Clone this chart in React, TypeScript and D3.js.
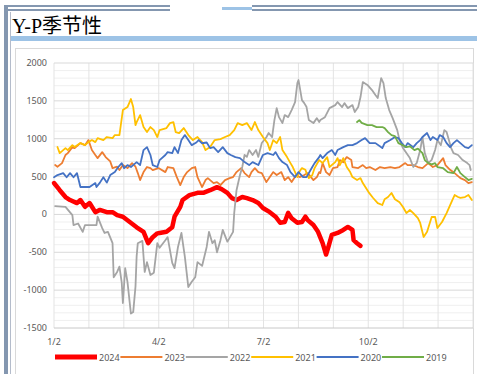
import React from "react";
import * as d3 from "d3";

// Y-P spread seasonality: [day offset from 1/2, spread value]
const s2024: [number, number][] = [
  [0, 415], [5, 320], [10, 230], [14, 190], [20, 150], [23, 190], [27, 100], [31, 150], [36, 30], [40, 60],
  [46, 30], [51, 30], [55, -10], [60, -30], [66, -100], [72, -170], [78, -230], [82, -380], [86, -300], [90, -250],
  [92, -245], [98, -230], [103, -170], [105, -30], [110, 100], [112, 190], [118, 255], [125, 285], [130, 285], [136, 320],
  [142, 360], [146, 335], [151, 285], [155, 215], [159, 190], [164, 230], [168, 215], [173, 190], [178, 150], [182, 85],
  [188, 30], [193, -30], [197, -110], [201, -100], [204, 20], [207, -50], [212, -110], [216, -100], [219, -30], [221, -75],
  [226, -140], [230, -230], [234, -380], [237, -530], [239, -430], [242, -270], [247, -245], [252, -205], [256, -165], [260, -205],
  [261, -340], [264, -380], [267, -415],
];

const s2023: [number, number][] = [
  [1, 652], [3, 630], [7, 678], [10, 785], [12, 810], [16, 889], [18, 876], [23, 942], [27, 915], [30, 982],
  [33, 850], [36, 785], [38, 744], [42, 823], [45, 757], [49, 700], [51, 612], [55, 630], [57, 586], [60, 652],
  [64, 612], [68, 678], [71, 630], [73, 546], [75, 454], [78, 560], [81, 626], [84, 612], [86, 586], [91, 612],
  [97, 559], [99, 626], [104, 612], [107, 493], [110, 388], [113, 493], [116, 559], [120, 612], [123, 626], [125, 493],
  [129, 362], [132, 454], [134, 480], [139, 414], [142, 427], [145, 388], [149, 454], [153, 480], [156, 493], [159, 559],
  [163, 612], [166, 546], [170, 493], [172, 559], [175, 612], [178, 559], [181, 546], [185, 427], [188, 493], [191, 559],
  [194, 520], [198, 559], [201, 454], [204, 493], [207, 427], [211, 520], [214, 493], [218, 520], [221, 546], [226, 454],
  [229, 493], [231, 559], [232, 546], [234, 678], [237, 559], [240, 520], [243, 612], [247, 626], [249, 718], [252, 690],
  [255, 757], [259, 718], [260, 626], [265, 612], [269, 652], [272, 612], [275, 626], [280, 586], [284, 626], [288, 612],
  [293, 626], [297, 612], [301, 626], [306, 678], [308, 652], [313, 652], [317, 626], [321, 612], [326, 678], [330, 626],
  [334, 652], [339, 744], [341, 652], [345, 590], [349, 546], [354, 480], [358, 454], [361, 414], [364, 427],
];

const s2022: [number, number][] = [
  [1, 110], [10, 100], [16, -10], [17, -140], [21, -120], [25, -230], [27, -140], [37, -140], [38, -30], [42, -180],
  [44, -245], [47, -230], [51, -380], [52, -830], [55, -760], [57, -690], [59, -900], [60, -1170], [62, -710], [64, -890],
  [67, -1310], [69, -1290], [71, -950], [72, -550], [73, -380], [77, -350], [79, -760], [81, -630], [84, -800], [87, -770],
  [90, -380], [92, -440], [97, -340], [99, -300], [103, -640], [105, -710], [108, -430], [111, -245], [114, -560], [117, -960],
  [120, -890], [123, -830], [125, -630], [129, -680], [133, -430], [135, -230], [138, -380], [140, -340], [142, -500], [145, -340],
  [147, -205], [151, -360], [153, -310], [156, -230], [157, 20], [159, 320], [162, 520], [164, 626], [166, 785], [168, 760],
  [170, 850], [173, 785], [176, 850], [178, 760], [181, 944], [185, 1020], [187, 1075], [190, 1022], [192, 1246], [194, 1404],
  [196, 1285], [199, 1206], [201, 1312], [204, 1285], [207, 1378], [210, 1484], [212, 1735], [213, 1775], [216, 1510], [218, 1470],
  [220, 1418], [222, 1246], [226, 1206], [229, 1272], [231, 1220], [232, 1246], [236, 1285], [240, 1404], [245, 1444], [247, 1484],
  [251, 1418], [253, 1470], [256, 1404], [260, 1444], [262, 1352], [265, 1418], [267, 1550], [269, 1748], [273, 1710], [277, 1643],
  [280, 1577], [282, 1537], [285, 1801], [287, 1735], [289, 1537], [292, 1378], [295, 1272], [299, 1114], [301, 982], [304, 876],
  [307, 810], [310, 744], [313, 626], [316, 680], [319, 850], [321, 1022], [323, 810], [326, 678], [329, 720], [332, 850],
  [334, 982], [337, 915], [340, 1114], [342, 1088], [346, 876], [348, 810], [352, 785], [356, 718], [360, 678], [362, 652],
  [363, 586],
];

const s2021: [number, number][] = [
  [3, 890], [5, 810], [10, 876], [12, 850], [16, 915], [18, 890], [23, 942], [27, 915], [30, 955], [33, 982],
  [36, 955], [38, 1008], [43, 982], [46, 1022], [51, 1008], [53, 1048], [57, 1048], [60, 1378], [64, 1418], [67, 1524],
  [69, 1418], [71, 1180], [72, 1220], [75, 1312], [78, 1154], [81, 1088], [84, 1154], [87, 1114], [90, 1022], [92, 1114],
  [98, 1140], [101, 1206], [104, 1220], [106, 1088], [109, 1075], [113, 1141], [117, 1048], [121, 982], [125, 1022], [129, 955],
  [132, 850], [136, 890], [140, 982], [145, 995], [149, 1022], [153, 1048], [157, 1114], [160, 1206], [164, 1180], [168, 1206],
  [172, 1114], [175, 1220], [178, 1114], [182, 1022], [186, 942], [188, 850], [191, 982], [194, 942], [197, 1022], [199, 850],
  [203, 757], [206, 678], [208, 626], [212, 493], [213, 546], [216, 612], [219, 590], [220, 546], [222, 480], [225, 520],
  [227, 612], [231, 718], [234, 680], [238, 757], [240, 626], [245, 691], [247, 744], [249, 650], [252, 744], [255, 626],
  [258, 559], [260, 493], [264, 454], [267, 480], [269, 414], [274, 295], [278, 217], [282, 150], [286, 124], [288, 200],
  [291, 230], [294, 283], [297, 200], [301, 160], [304, 98], [307, 18], [310, 58], [313, 18], [317, -48], [319, -113],
  [322, -298], [325, -230], [329, -34], [332, -34], [334, -179], [338, -100], [342, 18], [347, 190], [349, 256], [352, 230],
  [354, 220], [358, 230], [361, 256], [364, 190],
];

const s2020: [number, number][] = [
  [0, 491], [3, 520], [8, 546], [11, 491], [14, 546], [17, 491], [20, 546], [23, 362], [27, 362], [31, 362],
  [36, 414], [37, 362], [40, 420], [43, 491], [46, 420], [49, 520], [53, 559], [56, 626], [59, 678], [61, 610],
  [64, 652], [67, 626], [69, 652], [72, 691], [75, 652], [78, 850], [81, 889], [84, 785], [86, 652], [90, 626],
  [92, 718], [97, 785], [99, 823], [103, 810], [105, 889], [108, 810], [111, 982], [114, 1048], [117, 982], [120, 915],
  [124, 950], [126, 982], [129, 940], [133, 950], [136, 876], [139, 889], [143, 823], [147, 889], [151, 810], [154, 785],
  [158, 757], [162, 744], [166, 691], [170, 652], [173, 691], [178, 652], [182, 785], [186, 810], [191, 785], [193, 823],
  [196, 744], [199, 691], [203, 652], [206, 559], [210, 493], [213, 559], [217, 493], [220, 493], [225, 626], [227, 678],
  [231, 757], [232, 785], [234, 744], [238, 810], [242, 850], [245, 785], [247, 850], [252, 889], [256, 915], [260, 915],
  [264, 942], [268, 982], [271, 1008], [275, 942], [280, 942], [286, 876], [288, 942], [293, 982], [297, 1022], [300, 1008],
  [303, 942], [306, 889], [308, 942], [313, 889], [316, 942], [319, 982], [321, 1022], [325, 1075], [328, 982], [330, 1022],
  [334, 982], [336, 1048], [339, 1022], [342, 942], [345, 889], [348, 942], [351, 982], [354, 942], [358, 889], [361, 876],
  [364, 915],
];

const s2019: [number, number][] = [
  [264, 1220], [266, 1246], [268, 1210], [273, 1180], [277, 1180], [281, 1154], [286, 1154], [288, 1140], [291, 1088], [294, 1048],
  [297, 1035], [300, 942], [303, 920], [307, 889], [310, 900], [314, 850], [317, 870], [321, 810], [323, 718], [326, 678],
  [329, 660], [332, 678], [334, 626], [339, 610], [343, 559], [348, 546], [351, 626], [354, 546], [358, 493], [361, 454],
  [364, 470],
];

const seriesNames = ["2024", "2023", "2022", "2021", "2020", "2019"];
const seriesData = [s2024, s2023, s2022, s2021, s2020, s2019];
const seriesColors = ["#ff0000", "#ed7d31", "#a5a5a5", "#ffc000", "#4472c4", "#70ad47"];
const seriesWidths = [4.5, 1.8, 1.8, 1.8, 1.8, 1.8];

const yTicks = [2000, 1500, 1000, 500, 0, -500, -1000, -1500];
const xTickLabels = ["1/2", "4/2", "7/2", "10/2"];
const monthCount = 12;
const yearDays = 365;

const W = 477;
const H = 374;
const plot = { left: 54, right: 473, top: 63, bottom: 328 };

export default function App() {
  const x = d3.scaleLinear().domain([0, yearDays]).range([plot.left, plot.right]);
  const y = d3.scaleLinear().domain([-1500, 2000]).range([plot.bottom, plot.top]);
  const line = d3
    .line<[number, number]>()
    .x((d) => x(d[0]))
    .y((d) => y(d[1]));

  const minorTicks = d3.range(-1500, 2001, 100).filter((v) => v % 500 !== 0);
  const monthLines = d3.range(0, monthCount + 1).map((i) => (i * yearDays) / monthCount);
  const tickFont = "'Noto Sans', 'Open Sans', sans-serif";

  return (
    <svg
      width={W}
      height={H}
      style={{ position: "absolute", left: 0, top: 0, background: "#fff" }}
      xmlns="http://www.w3.org/2000/svg"
    >
      {/* window frame */}
      <rect x={0} y={0} width={W} height={H} fill="#fff" />
      <rect x={4} y={5} width={4} height={H - 5} fill="#8497b0" />
      <line x1={10.5} y1={12} x2={10.5} y2={H} stroke="#b4bccb" strokeWidth={1} />
      <rect x={7} y={5} width={163} height={2} fill="#8497b0" />
      <rect x={7} y={9} width={163} height={2} fill="#8497b0" />
      <rect x={222} y={7} width={30} height={3} fill="#9dc3e6" />
      <rect x={252} y={5} width={W - 252} height={2} fill="#8497b0" />
      <rect x={252} y={9} width={W - 252} height={2} fill="#8497b0" />
      <text
        x={12}
        y={33}
        fontSize={20}
        fill="#000"
        style={{ fontFamily: "'Liberation Serif', 'Noto Sans CJK SC', serif" }}
      >
        Y-P季节性
      </text>
      <rect x={11} y={36} width={W - 11} height={5} fill="#9dc3e6" />

      {/* chart area */}
      <rect x={15.5} y={48.5} width={458} height={340} fill="#fff" stroke="#d9d9d9" strokeWidth={1} />

      {/* gridlines */}
      {minorTicks.map((v) => (
        <line key={`m${v}`} x1={plot.left} x2={plot.right} y1={y(v)} y2={y(v)} stroke="#efefef" strokeWidth={1} />
      ))}
      {monthLines.map((d, i) => (
        <line key={`v${i}`} x1={x(d)} x2={x(d)} y1={plot.top} y2={plot.bottom} stroke="#e3e3e3" strokeWidth={1} />
      ))}
      {yTicks.map((v) => (
        <line
          key={`g${v}`}
          x1={plot.left}
          x2={plot.right}
          y1={y(v)}
          y2={y(v)}
          stroke={v === -1500 ? "#c8c8c8" : "#d9d9d9"}
          strokeWidth={1}
        />
      ))}

      {/* axis labels */}
      {yTicks.map((v) => (
        <text
          key={`yl${v}`}
          x={47}
          y={y(v) + 3}
          textAnchor="end"
          fontSize={9}
          fill="#595959"
          style={{ fontFamily: tickFont }}
        >
          {v}
        </text>
      ))}
      {xTickLabels.map((lab, i) => (
        <text
          key={`xl${lab}`}
          x={x(monthLines[i * 3])}
          y={345}
          textAnchor="middle"
          fontSize={9}
          fill="#595959"
          style={{ fontFamily: tickFont }}
        >
          {lab}
        </text>
      ))}

      {/* series */}
      {seriesData.map((data, i) => (
        <path
          key={seriesNames[i]}
          d={line(data) || ""}
          fill="none"
          stroke={seriesColors[i]}
          strokeWidth={seriesWidths[i]}
          strokeLinejoin="round"
          strokeLinecap="round"
        />
      ))}

      {/* legend */}
      {seriesNames.map((name, i) => {
        const x0 = 55 + i * 65.4;
        return (
          <g key={`lg${name}`}>
            <line
              x1={x0}
              x2={x0 + 42}
              y1={357}
              y2={357}
              stroke={seriesColors[i]}
              strokeWidth={seriesWidths[i] + 0.3}
            />
            <text x={x0 + 44} y={360.5} fontSize={9} fill="#595959" style={{ fontFamily: tickFont }}>
              {name}
            </text>
          </g>
        );
      })}
    </svg>
  );
}
